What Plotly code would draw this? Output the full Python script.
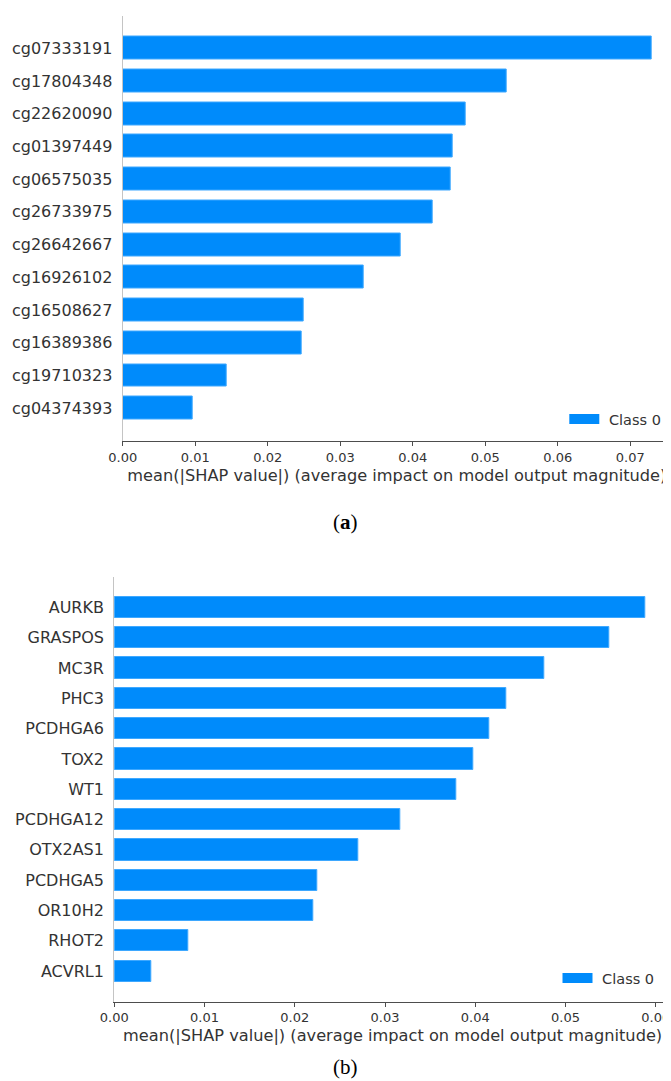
import plotly.graph_objects as go

# ---- data (top-to-bottom order as shown) ----
features_a = ["cg07333191", "cg17804348", "cg22620090", "cg01397449", "cg06575035",
              "cg26733975", "cg26642667", "cg16926102", "cg16508627", "cg16389386",
              "cg19710323", "cg04374393"]
values_a = [0.0729, 0.0529, 0.0473, 0.0455, 0.0453, 0.0427, 0.0383, 0.0332,
            0.0250, 0.0247, 0.0143, 0.0096]

features_b = ["AURKB", "GRASPOS", "MC3R", "PHC3", "PCDHGA6", "TOX2", "WT1",
              "PCDHGA12", "OTX2AS1", "PCDHGA5", "OR10H2", "RHOT2", "ACVRL1"]
values_b = [0.0588, 0.0549, 0.0477, 0.0434, 0.0415, 0.0398, 0.0379, 0.0317,
            0.0270, 0.0225, 0.0221, 0.0082, 0.0041]

ticks_a = [0.00, 0.01, 0.02, 0.03, 0.04, 0.05, 0.06, 0.07]
ticks_b = [0.00, 0.01, 0.02, 0.03, 0.04, 0.05, 0.06]
series_name = "Class 0"
x_title = "mean(|SHAP value|) (average impact on model output magnitude)"
captions = ["(<b>a</b>)", "(b)"]

BLUE = "#008bfb"
AX = "#333333"
FONT = "DejaVu Sans"
PAGE_W, PAGE_H = 671, 1081
OFF = 8                      # default body margin of the html page
W, H = PAGE_W - OFF, PAGE_H - OFF

def fx(px):                  # page pixel -> paper fraction (x)
    return (px - OFF) / W

def fy(py):                  # page pixel -> paper fraction (y)
    return 1 - (py - OFF) / H

fig = go.Figure()

def add_panel(feats, vals, xa, ya, legend_id):
    n = len(feats)
    ypos = list(range(n - 1, -1, -1))
    fig.add_trace(go.Bar(
        x=vals, y=ypos, orientation="h", width=0.7,
        marker=dict(color=BLUE, line=dict(color="#3ea8ff", width=1)),
        xaxis=xa, yaxis=ya, showlegend=False, hoverinfo="x+text",
        hovertext=feats,
    ))
    # legend entry (wide rectangular patch like matplotlib)
    fig.add_trace(go.Scatter(
        x=[None], y=[None], mode="lines", name="\u00a0" + series_name,
        line=dict(color=BLUE, width=10),
        xaxis=xa, yaxis=ya, legend=legend_id, showlegend=True,
    ))
    return ypos

ypa = add_panel(features_a, values_a, "x", "y", "legend")
ypb = add_panel(features_b, values_b, "x2", "y2", "legend2")

xcommon = dict(
    showline=True, linecolor="#4d4d4d", linewidth=1.3, mirror=False,
    ticks="outside", ticklen=4, tickcolor="#4d4d4d", tickwidth=1,
    tickfont=dict(family=FONT, size=13, color=AX),
    showgrid=False, zeroline=False, tickformat=".2f", automargin=False,
    title=dict(text=x_title, font=dict(family=FONT, size=16.2, color=AX), standoff=5),
)
ycommon = dict(
    showline=True, linecolor="#c4c4c4", linewidth=1.3, automargin=False,
    ticks="", showgrid=False, zeroline=False,
    tickfont=dict(family=FONT, size=16, color=AX), ticklabelstandoff=6,
)

x0a, x0b = 122.7, 114.3
pxa, pxb = 7250.0, 9025.0    # pixels per data unit

legend_common = dict(xanchor="left", yanchor="middle", bgcolor="rgba(0,0,0,0)",
                     borderwidth=0, itemwidth=30,
                     font=dict(family=FONT, size=14.5, color=AX))

fig.update_layout(
    width=W, height=H,
    margin=dict(l=0, r=0, t=0, b=0),
    paper_bgcolor="white", plot_bgcolor="white",
    bargap=0,
    xaxis=dict(domain=[fx(x0a), 1.0], range=[0, (PAGE_W - x0a) / pxa], tickvals=ticks_a,
               anchor="y", **xcommon),
    yaxis=dict(domain=[fy(441), fy(15.5)], range=[-1, 12], tickvals=ypa, ticktext=features_a,
               anchor="x", **ycommon),
    xaxis2=dict(domain=[fx(x0b), 1.0], range=[0, (PAGE_W - x0b) / pxb], tickvals=ticks_b,
                anchor="y2", **xcommon),
    yaxis2=dict(domain=[fy(1001.5), fy(577)], range=[-1, 13], tickvals=ypb, ticktext=features_b,
                anchor="x2", **ycommon),
    legend=dict(x=fx(564.3), y=fy(419), **legend_common),
    legend2=dict(x=fx(557.5), y=fy(978), **legend_common),
    annotations=[
        dict(text=captions[0], x=fx(345), y=fy(522), xref="paper", yref="paper",
             xanchor="center", yanchor="middle", showarrow=False,
             font=dict(family="Liberation Serif", size=21, color="black")),
        dict(text=captions[1], x=fx(345), y=fy(1067), xref="paper", yref="paper",
             xanchor="center", yanchor="middle", showarrow=False,
             font=dict(family="Liberation Serif", size=21, color="black")),
    ],
)

fig.write_html("out.html")
